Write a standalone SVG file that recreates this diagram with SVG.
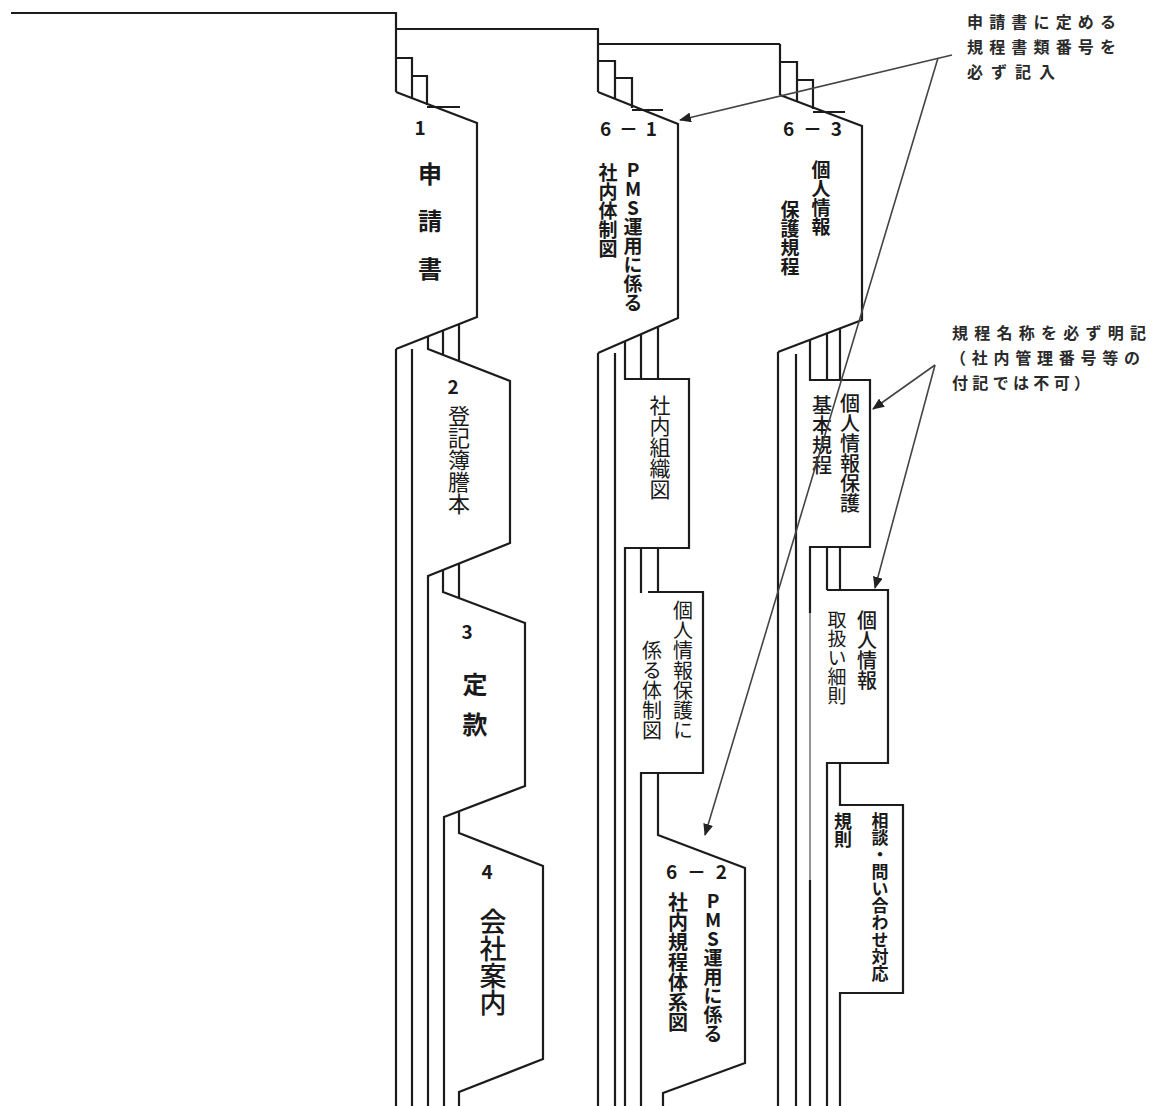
<svg xmlns="http://www.w3.org/2000/svg" width="1155" height="1106" viewBox="0 0 1155 1106">
<style>
.ln{fill:none;stroke:#1c1c1c;stroke-width:2.2;stroke-linejoin:miter}
.gr{fill:none;stroke:#8a8a8a;stroke-width:1.8}
.ar{fill:none;stroke:#444;stroke-width:1.6}
.t{font-family:"Noto Sans CJK JP","Noto Sans",sans-serif;fill:#1a1a1a}
.b{font-weight:bold}
.v{writing-mode:vertical-rl;text-orientation:upright}
.n{font-family:"Noto Sans CJK JP","Liberation Sans",sans-serif;font-weight:bold;fill:#1a1a1a}
.note{font-family:"Noto Sans CJK JP",sans-serif;font-weight:bold;fill:#2a2a2a;font-size:16px}
</style>
<defs>
<marker id="ah" viewBox="0 0 12 10" refX="11" refY="5" markerWidth="12" markerHeight="10" markerUnits="userSpaceOnUse" orient="auto">
<path d="M0,0 L12,5 L0,10 Z" fill="#222"/>
</marker>
</defs>
<rect width="1155" height="1106" fill="#fff"/>

<!-- Column 1 -->
<g id="tab1">
<path class="ln" d="M11,13 H396 V92 M396,29 H599 M396,58 H412 V98 M412,76 H427 V105 M427,107 H460"/>
<path class="ln" d="M396,92 L477,123 V317 L396,349"/>
<path class="ln" d="M396,349 V1106 M412,349 V1106"/>
<text class="n" x="420" y="135" font-size="19" text-anchor="middle">1</text>
<text class="t b" x="430" y="183" font-size="24" text-anchor="middle">申</text>
<text class="t b" x="430" y="230" font-size="24" text-anchor="middle">請</text>
<text class="t b" x="430" y="278" font-size="24" text-anchor="middle">書</text>
</g>
<g id="tab2">
<path class="ln" d="M428,336 V349 L510,381 V543 L428,576 V1106 M443,330 V355 M459,324 V361"/>
<text class="n" x="453" y="394" font-size="19" text-anchor="middle">2</text>
<text class="t v" x="459" y="405" font-size="22">登記簿謄本</text>
</g>
<g id="tab3">
<path class="ln" d="M443,570 V592 L525,623 V786 L444,817 V1106 M459,563 V598"/>
<text class="n" x="467" y="639" font-size="19" text-anchor="middle">3</text>
<text class="t b" x="475" y="694" font-size="25" text-anchor="middle">定</text>
<text class="t b" x="475" y="734" font-size="25" text-anchor="middle">款</text>
</g>
<g id="tab4">
<path class="ln" d="M459,811 V833 L543,866 V1059 L459,1092 V1106"/>
<text class="n" x="487" y="879" font-size="19" text-anchor="middle">4</text>
<text class="t v" x="493" y="908" font-size="27" font-weight="500">会社案内</text>
</g>

<!-- Column 2 -->
<g id="tab6-1">
<path class="ln" d="M598,29 V92 M598,44 H780 M598,61 H615 V99 M615,78 H632 V108 M632,110 H663"/>
<path class="ln" d="M598,92 L678,124 V318 L598,353"/>
<path class="ln" d="M598,353 V1106 M615,353 V1106"/>
<text class="n" x="600" y="136" font-size="19" textLength="57" lengthAdjust="spacing">6－1</text>
<text class="t b v" x="633" y="160" font-size="19">PMS運用に係る</text>
<text class="t b v" x="608" y="163" font-size="19">社内体制図</text>
</g>
<g id="tab-soshikizu">
<path class="ln" d="M625,341 V379 H689 V548 H625 V1106 M641,334 V379 M658,327 V379"/>
<text class="t v" x="660" y="395" font-size="21">社内組織図</text>
</g>
<g id="tab-taiseizu">
<path class="ln" d="M641,548 V593 M658,548 V592 M648,592 H703 V773 H641 V1106"/>
<text class="t v" x="683" y="600" font-size="20">個人情報保護に</text>
<text class="t v" x="652" y="640" font-size="20">係る体制図</text>
</g>
<g id="tab6-2">
<path class="ln" d="M658,773 V835 L745,868 V1063 L663,1093 V1106"/>
<text class="n" x="666" y="879" font-size="19" textLength="61" lengthAdjust="spacing">6－2</text>
<text class="t b v" x="713" y="891" font-size="19">PMS運用に係る</text>
<text class="t b v" x="678" y="892" font-size="20">社内規程体系図</text>
</g>

<!-- Column 3 -->
<g id="tab6-3">
<path class="ln" d="M780,44 V95 M780,62 H797 V101 M797,80 H813 V109 M813,112 H845"/>
<path class="ln" d="M780,95 L862,126 V320 L778,352"/>
<path class="ln" d="M778,352 V1106 M796,354 V1106"/>
<text class="n" x="783" y="136" font-size="19" textLength="59" lengthAdjust="spacing">6－3</text>
<text class="t b v" x="821" y="160" font-size="19">個人情報</text>
<text class="t b v" x="790" y="200" font-size="19">保護規程</text>
</g>
<g id="tab-kihon">
<path class="ln" d="M810,340 V380 H870 V547 H810 V613 M810,880 V1106 M827,334 V380 M840,328 V380"/>
<path class="gr" d="M810,613 V880"/>
<text class="t v" x="850" y="393" font-size="20" font-weight="500">個人情報保護</text>
<text class="t v" x="822" y="395" font-size="20" font-weight="500">基本規程</text>
</g>
<g id="tab-saisoku">
<path class="ln" d="M827,547 V590 M840,547 V590 M827,590 H888 V763 H827 V1106"/>
<text class="t v" x="867" y="610" font-size="20" font-weight="500">個人情報</text>
<text class="t v" x="837" y="610" font-size="19">取扱い細則</text>
</g>
<g id="tab-soudan">
<path class="ln" d="M840,763 V805 H903 V993 H840 V1106"/>
<text class="t b v" x="880" y="812" font-size="17">相談・問い合わせ対応</text>
<text class="t b v" x="843" y="812" font-size="18">規則</text>
</g>

<!-- Notes -->
<g id="note1">
<text class="note" x="967" y="28" textLength="149" lengthAdjust="spacing">申請書に定める</text>
<text class="note" x="967" y="53" textLength="149" lengthAdjust="spacing">規程書類番号を</text>
<text class="note" x="967" y="78" textLength="88" lengthAdjust="spacing">必ず記入</text>
</g>
<g id="note2">
<text class="note" x="952" y="339" textLength="194" lengthAdjust="spacing">規程名称を必ず明記</text>
<text class="note" x="950" y="364" textLength="190" lengthAdjust="spacing">（社内管理番号等の</text>
<text class="note" x="952" y="389" textLength="138" lengthAdjust="spacing">付記では不可）</text>
</g>

<g id="connectors">
<line class="ar" x1="952" y1="55" x2="680" y2="120" marker-end="url(#ah)"/>
<line class="ar" x1="938" y1="58" x2="705" y2="835" marker-end="url(#ah)"/>
<line class="ar" x1="935" y1="365" x2="873" y2="409" marker-end="url(#ah)"/>
<line class="ar" x1="935" y1="365" x2="875" y2="588" marker-end="url(#ah)"/>
</g>
</svg>
